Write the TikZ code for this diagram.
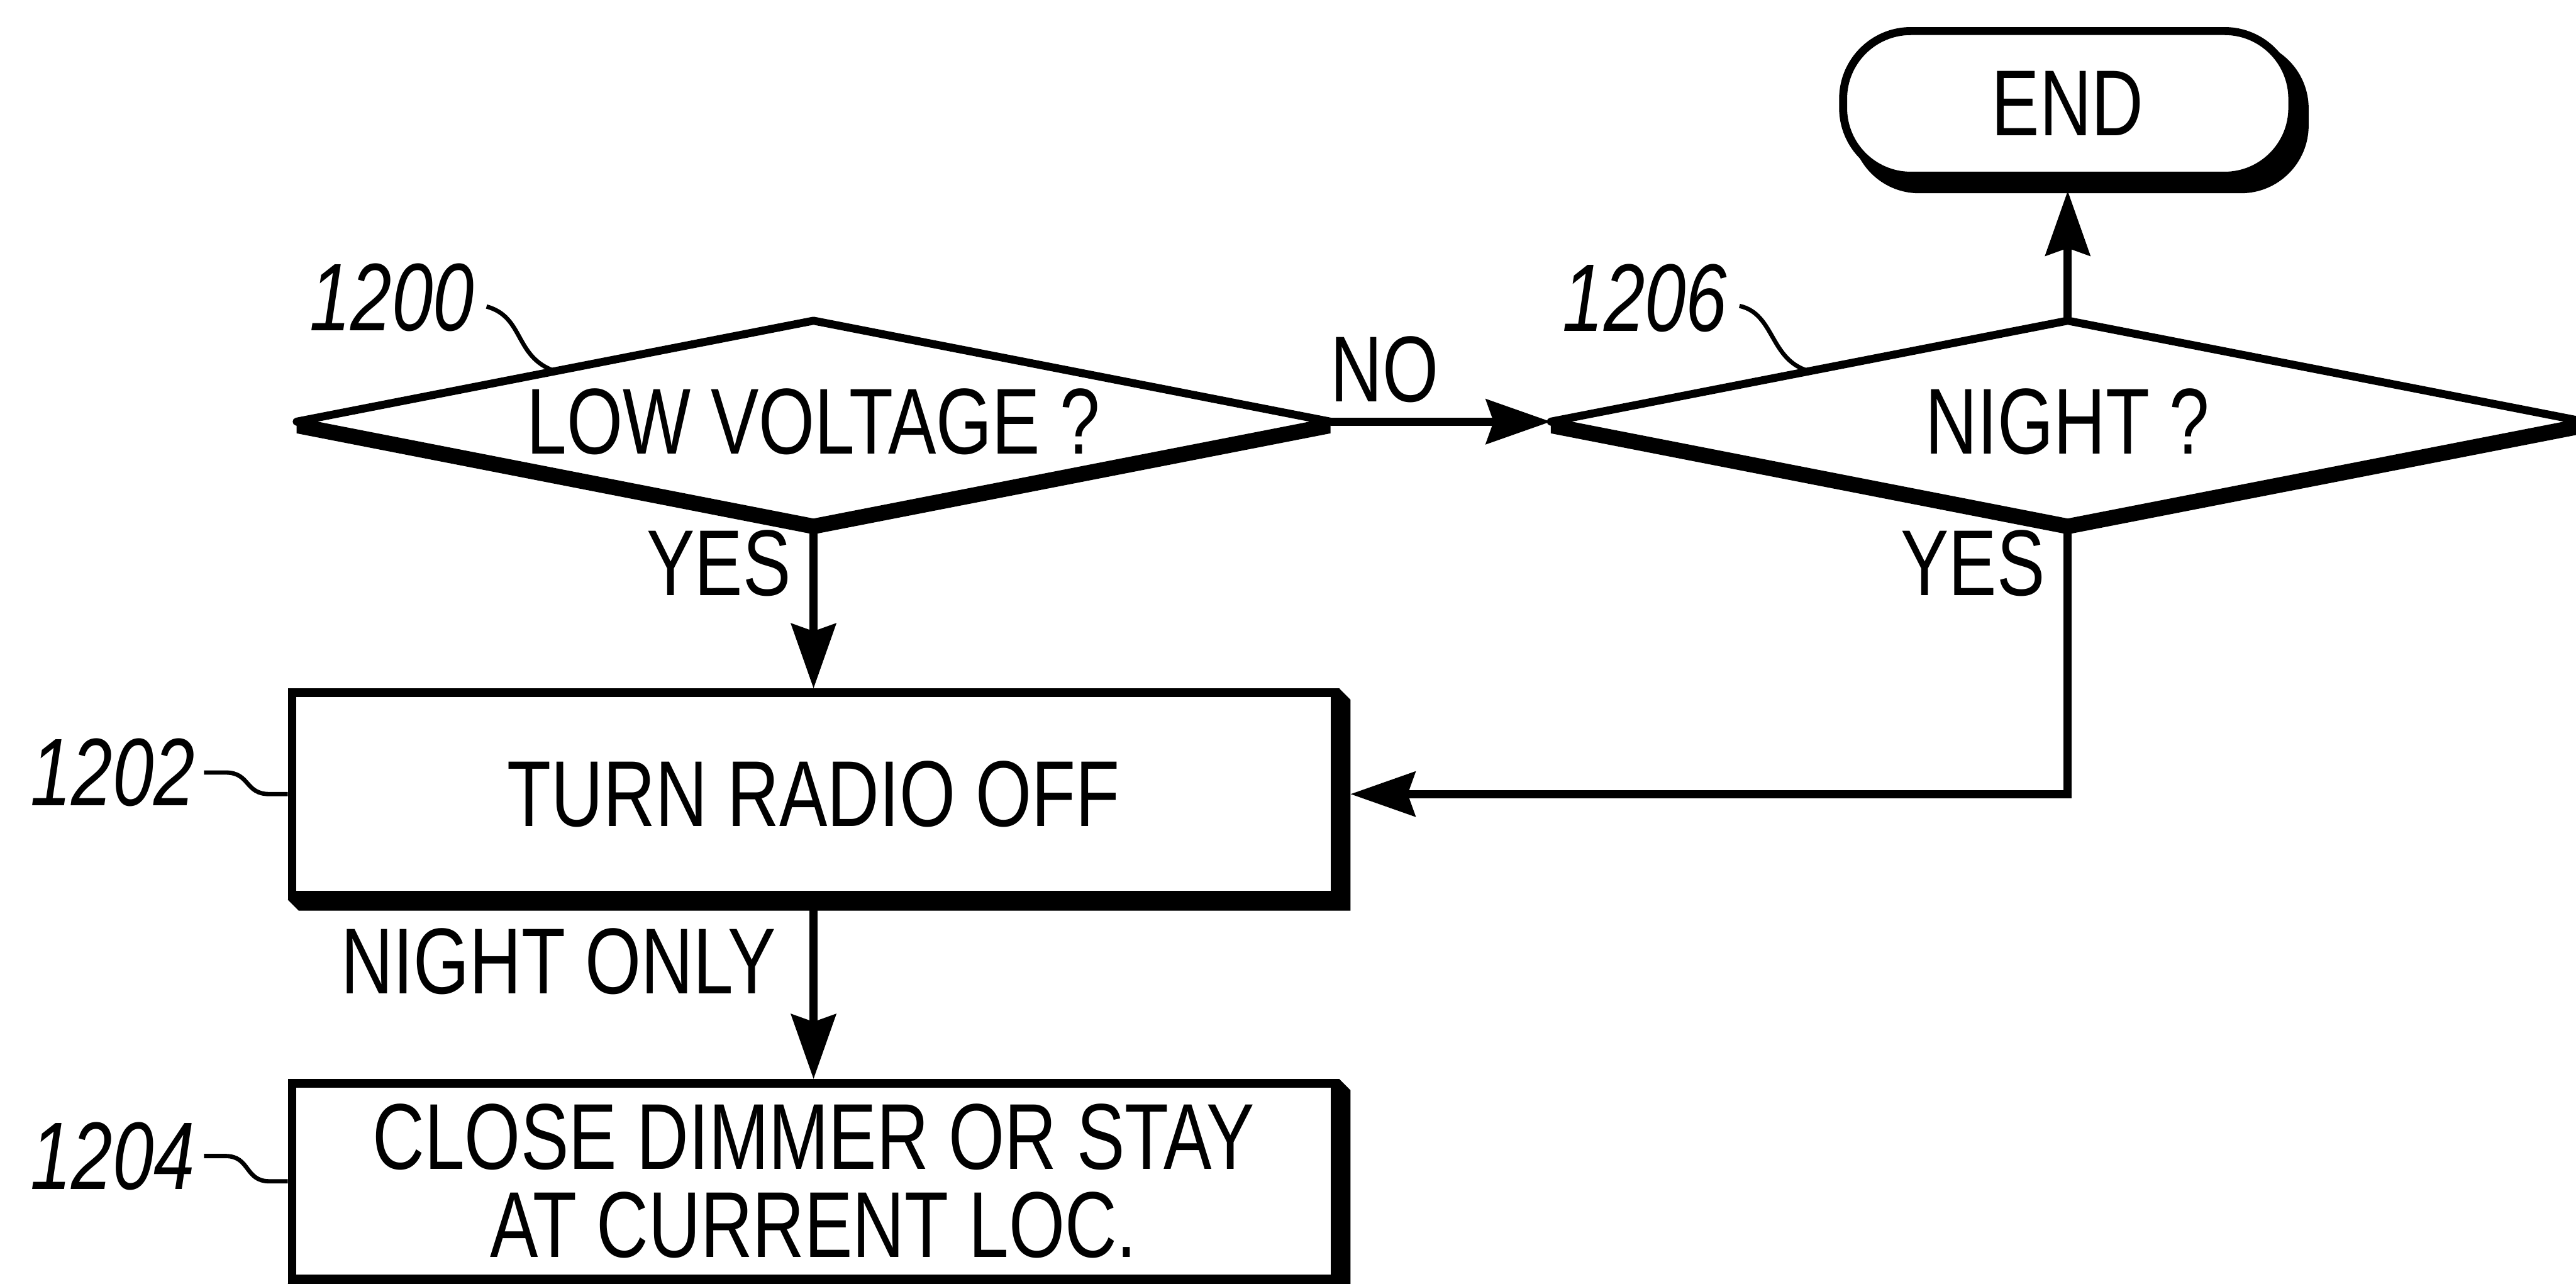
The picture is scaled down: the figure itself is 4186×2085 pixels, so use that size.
\documentclass[tikz,border=0pt]{standalone}
\usepackage{fontspec}
\setmainfont{Liberation Sans}[FakeStretch=0.77]
\usetikzlibrary{shapes.geometric,arrows.meta,backgrounds,calc}
\begin{document}
\begin{tikzpicture}[x=0.1pt,y=-0.1pt,
  txt/.style={font=\fontsize{15.2}{14.3}\selectfont},
  refnum/.style={font=\fontsize{15.6}{16}\selectfont\itshape, inner sep=0pt},
  decision/.style={diamond, draw, fill=white, line width=1.3pt, line join=round,
    inner sep=0pt, outer sep=0pt, shape aspect=5.2, minimum width=168pt, minimum height=32.8pt, txt},
  process/.style={rectangle, draw, fill=white, line width=1.4pt, inner sep=0pt,
    minimum width=169.5pt, txt, align=center},
  terminal/.style={rectangle, rounded corners=11pt, draw, fill=white, line width=1.3pt,
    minimum width=73pt, minimum height=23.5pt, inner sep=0pt, txt},
  conn/.style={line width=1.3pt, -{Stealth[length=10.5pt,width=7.2pt,inset=1.2pt]}},
  lbl/.style={txt, inner sep=0pt},
  leader/.style={line width=0.7pt},
  shadowfill/.style={fill=black}
]
\useasboundingbox (0,0) rectangle (4186,2085);

% nodes
\node[decision] (d1) at (1322,685) {LOW VOLTAGE ?};
\node[decision] (d2) at (3360,685) {NIGHT ?};
\node[terminal] (e) at (3360,168) {END};
\node[process, minimum height=32.9pt] (b1) at (1322,1290) {TURN RADIO OFF};
\node[process, minimum height=31.8pt] (b2) at (1322,1919) {CLOSE DIMMER OR STAY\\AT CURRENT LOC.};

% shadows
\begin{pgfonlayer}{background}
  \fill[shadowfill] (d1.west) -- (d1.south) -- (d1.east) -- ([yshift=-1.9pt]d1.east)
     -- ([yshift=-1.9pt]d1.south) -- ([yshift=-1.9pt]d1.west) -- cycle;
  \fill[shadowfill] (d2.west) -- (d2.south) -- (d2.east) -- ([yshift=-1.9pt]d2.east)
     -- ([yshift=-1.9pt]d2.south) -- ([yshift=-1.9pt]d2.west) -- cycle;
  \fill[shadowfill] (b1.north east) -- ([shift={(1.8pt,-1.8pt)}]b1.north east)
     -- ([shift={(1.8pt,-1.8pt)}]b1.south east) -- ([shift={(1.8pt,-1.8pt)}]b1.south west)
     -- (b1.south west) -- cycle;
  \fill[shadowfill] (b2.north east) -- ([shift={(1.8pt,-1.8pt)}]b2.north east)
     -- ([shift={(1.8pt,-1.8pt)}]b2.south east) -- ([shift={(1.8pt,-1.8pt)}]b2.south west)
     -- (b2.south west) -- cycle;
  \fill[shadowfill, rounded corners=11pt] ([shift={(2pt,-2.2pt)}]e.south west)
     rectangle ([shift={(2pt,-2.2pt)}]e.north east);
\end{pgfonlayer}

% connectors
\draw[conn] (d1.south) -- (b1.north);
\draw[conn] (d1.east) -- (d2.west);
\draw[conn] (d2.north) -- ([yshift=-1.8pt]e.south);
\draw[conn] (d2.south) |- ([xshift=1.8pt]b1.east);
\draw[conn] (b1.south) -- (b2.north);

% connector labels
\node[lbl] (yes1) at (1168,915) {YES};
\node[lbl] (no) at (2250,600) {NO};
\node[lbl] (yes2) at (3206,915) {YES};
\node[lbl] (nightonly) at (908,1562) {NIGHT ONLY};

% reference numerals
\node[refnum] (n1200) at (637,483) {1200};
\node[refnum] (n1206) at (2673,484) {1206};
\node[refnum] (n1202) at (183,1255) {1202};
\node[refnum] (n1204) at (183,1878) {1204};

\coordinate (t1200) at ($(d1.west)!0.5!(d1.north)$);
\coordinate (t1206) at ($(d2.west)!0.5!(d2.north)$);
\draw[leader] ([shift={(1.8pt,-1.5pt)}]n1200.east) .. controls +(6.2pt,-1.7pt) and +(-6.7pt,2.3pt) .. (t1200);
\draw[leader] ([shift={(1.8pt,-1.3pt)}]n1206.east) .. controls +(5.8pt,-1.3pt) and +(-6.5pt,1.8pt) .. (t1206);
\draw[leader] ([xshift=1.3pt]n1202.east) -- +(3.5pt,0) .. controls +(4pt,0) and +(-4pt,0) .. ([xshift=-3pt]b1.west) -- (b1.west);
\draw[leader] ([xshift=1.3pt]n1204.east) -- +(3.5pt,0) .. controls +(4pt,0) and +(-4pt,0) .. ([xshift=-3pt]b2.west) -- (b2.west);
\end{tikzpicture}
\end{document}
